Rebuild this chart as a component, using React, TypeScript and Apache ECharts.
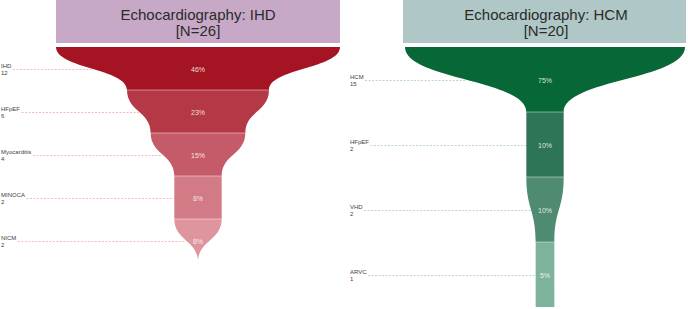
import React, { useEffect, useRef } from "react";
import * as echarts from "echarts";

// ---- Data: IHD funnel ----
const ihdTitle = "Echocardiography: IHD";
const ihdTotal = 26;
const ihdCategories = ["IHD", "HFpEF", "Myocarditis", "MINOCA", "NICM"];
const ihdCounts = [12, 6, 4, 2, 2];
const ihdTailCount = 0;
const ihdColors = ["#A51423", "#B43846", "#C55B68", "#D27A85", "#DE959D"];

// ---- Data: HCM funnel ----
const hcmTitle = "Echocardiography: HCM";
const hcmTotal = 20;
const hcmCategories = ["HCM", "HFpEF", "VHD", "ARVC"];
const hcmCounts = [15, 2, 2, 1];
const hcmTailCount = 1;
const hcmColors = ["#076736", "#2D7556", "#4E8B70", "#7DB39A"];

const FONT = '"Liberation Sans", Arial, sans-serif';

let measureCtx: CanvasRenderingContext2D | null = null;
function measure(text: string, font: string): number {
  if (!measureCtx) {
    const c = document.createElement("canvas");
    measureCtx = c.getContext("2d");
  }
  if (!measureCtx) return text.length * 3.5;
  measureCtx.font = font;
  return measureCtx.measureText(text).width;
}

function makeRenderItem(
  categories: string[],
  counts: number[],
  tail: number,
  total: number,
  colors: string[],
  labelX: number,
  lineColor: string
) {
  return (params: any, api: any) => {
    const i = params.dataIndex;
    const v = counts[i];
    const nv = i + 1 < counts.length ? counts[i + 1] : tail;
    const tl = api.coord([-v / 2, i]);
    const tr = api.coord([v / 2, i]);
    const bl = api.coord([-nv / 2, i + 1]);
    const br = api.coord([nv / 2, i + 1]);
    const ym = (tl[1] + bl[1]) / 2;
    const d =
      `M${tl[0]},${tl[1]} C${tl[0]},${ym} ${bl[0]},${ym} ${bl[0]},${bl[1]} ` +
      `L${br[0]},${br[1]} C${br[0]},${ym} ${tr[0]},${ym} ${tr[0]},${tr[1]} Z`;
    const cx = (tl[0] + tr[0]) / 2;
    const edgeX = (tl[0] + bl[0]) / 2;
    const nameFont = `6px ${FONT}`;
    const nameW = measure(categories[i], nameFont);
    const pct = Math.round((v / total) * 100) + "%";
    const children: any[] = [
      {
        type: "line",
        shape: { x1: labelX + nameW + 1.5, y1: ym + 1, x2: edgeX, y2: ym + 1 },
        style: { stroke: lineColor, lineWidth: 0.8, lineDash: [2, 1.5] },
      },
      {
        type: "path",
        shape: { pathData: d },
        style: { fill: colors[i], stroke: null },
      },
      {
        type: "text",
        x: labelX,
        y: ym - 2.5,
        style: {
          text: categories[i],
          fill: "#404040",
          font: nameFont,
          align: "left",
          verticalAlign: "middle",
        },
      },
      {
        type: "text",
        x: labelX,
        y: ym + 4.5,
        style: {
          text: String(v),
          fill: "#404040",
          font: nameFont,
          align: "left",
          verticalAlign: "middle",
        },
      },
      {
        type: "text",
        x: cx,
        y: ym + 0.5,
        style: {
          text: pct,
          fill: "rgba(255,255,255,0.85)",
          font: `7px ${FONT}`,
          align: "center",
          verticalAlign: "middle",
        },
      },
    ];
    if (i > 0) {
      children.push({
        type: "line",
        shape: { x1: tl[0], y1: tl[1], x2: tr[0], y2: tr[1] },
        style: { stroke: "rgba(255,255,255,0.45)", lineWidth: 1 },
      });
    }
    return { type: "group", children };
  };
}

export default function App() {
  const ref = useRef<HTMLDivElement>(null);
  useEffect(() => {
    if (!ref.current) return;
    const chart = echarts.init(ref.current, null, { renderer: "svg" });
    const ihdMax = ihdCounts[0] / 2;
    const hcmMax = hcmCounts[0] / 2;
    const option: any = {
      animation: false,
      backgroundColor: "#ffffff",
      grid: [
        { left: 56, top: 47, width: 284, height: 215 },
        { left: 405, top: 47, width: 280, height: 260 },
      ],
      xAxis: [
        { type: "value", gridIndex: 0, min: -ihdMax, max: ihdMax, show: false },
        { type: "value", gridIndex: 1, min: -hcmMax, max: hcmMax, show: false },
      ],
      yAxis: [
        { type: "value", gridIndex: 0, min: 0, max: ihdCounts.length, inverse: true, show: false },
        { type: "value", gridIndex: 1, min: 0, max: hcmCounts.length, inverse: true, show: false },
      ],
      graphic: [
        { type: "rect", shape: { x: 56, y: -2, width: 284, height: 45 }, style: { fill: "#C7A9C7" } },
        { type: "rect", shape: { x: 403, y: -2, width: 283, height: 45 }, style: { fill: "#AFC7C6" } },
        {
          type: "text", x: 198, y: 14,
          style: { text: ihdTitle, font: `15px ${FONT}`, fill: "#2b2b2b", align: "center", verticalAlign: "middle" },
        },
        {
          type: "text", x: 198, y: 30,
          style: { text: `[N=${ihdTotal}]`, font: `15px ${FONT}`, fill: "#2b2b2b", align: "center", verticalAlign: "middle" },
        },
        {
          type: "text", x: 546, y: 14,
          style: { text: hcmTitle, font: `15px ${FONT}`, fill: "#2b2b2b", align: "center", verticalAlign: "middle" },
        },
        {
          type: "text", x: 546, y: 30,
          style: { text: `[N=${hcmTotal}]`, font: `15px ${FONT}`, fill: "#2b2b2b", align: "center", verticalAlign: "middle" },
        },
      ],
      series: [
        {
          type: "custom",
          name: "IHD",
          xAxisIndex: 0,
          yAxisIndex: 0,
          clip: false,
          data: ihdCounts.map((c, i) => [c, i]),
          encode: { x: 0, y: 1 },
          renderItem: makeRenderItem(ihdCategories, ihdCounts, ihdTailCount, ihdTotal, ihdColors, 1, "#EFA9B1"),
        },
        {
          type: "custom",
          name: "HCM",
          xAxisIndex: 1,
          yAxisIndex: 1,
          clip: false,
          data: hcmCounts.map((c, i) => [c, i]),
          encode: { x: 0, y: 1 },
          renderItem: makeRenderItem(hcmCategories, hcmCounts, hcmTailCount, hcmTotal, hcmColors, 350, "#A9CCC3"),
        },
      ],
    };
    chart.setOption(option);
    return () => chart.dispose();
  }, []);
  return (
    <div
      ref={ref}
      style={{ position: "fixed", left: 0, top: 0, width: 688, height: 309 }}
    />
  );
}
